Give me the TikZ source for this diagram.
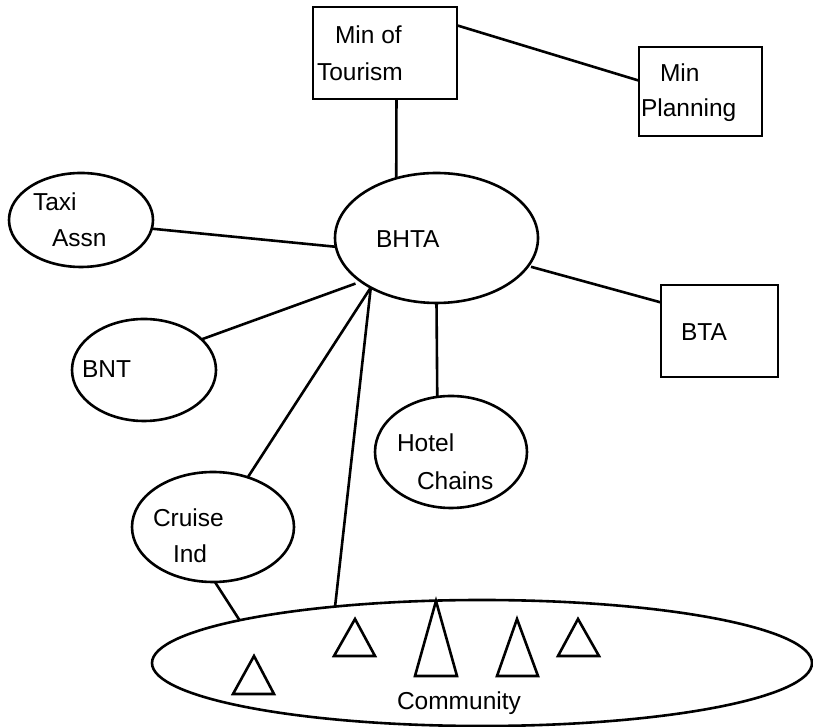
\documentclass[tikz,border=0pt]{standalone}
\usepackage{fontspec}
\setmainfont{Liberation Sans}
\usetikzlibrary{shapes.geometric}
\begin{document}
\begin{tikzpicture}[x=1pt,y=1pt,
  every node/.style={outer sep=0pt, inner sep=0pt},
  shp/.style={draw=black, line width=2.6pt},
  boxshape/.style={shp, rectangle},
  ovalshape/.style={shp, ellipse},
  lbl/.style={anchor=base west, font=\fontsize{24.5}{29}\selectfont},
  link/.style={draw=black, line width=2.6pt}]
\useasboundingbox (0,0) rectangle (813,727);

% shapes
\node[boxshape, minimum width=144pt, minimum height=92pt] (tourism) at (385,674) {};
\node[boxshape, minimum width=123pt, minimum height=89pt] (planning) at (700.5,635.5) {};
\node[boxshape, minimum width=117pt, minimum height=92pt] (bta) at (719.5,396) {};
\node[ovalshape, minimum width=203pt, minimum height=130pt] (bhta) at (436.5,489) {};
\node[ovalshape, minimum width=144pt, minimum height=94pt] (taxi) at (81,507) {};
\node[ovalshape, minimum width=144pt, minimum height=102pt] (bnt) at (144,357) {};
\node[ovalshape, minimum width=152pt, minimum height=112pt] (hotel) at (451,275) {};
\node[ovalshape, minimum width=162pt, minimum height=110pt] (cruise) at (213,200) {};
\node[ovalshape, minimum width=660pt, minimum height=126pt] (community) at (482,64) {};

% people in the community
\draw[shp, line join=miter] (233,33) -- (254,71) -- (274,33) -- cycle;
\draw[shp, line join=miter] (334,71) -- (355,108) -- (375,71) -- cycle;
\draw[shp, line join=miter] (415,51) -- (436,126) -- (457,51) -- cycle;
\draw[shp, line join=miter] (497,51) -- (517,108) -- (538,51) -- cycle;
\draw[shp, line join=miter] (558,71) -- (578,108) -- (599,71) -- cycle;

% labels
\node[lbl] (ttour1) at (335,683) {Min of};
\node[lbl] (ttour2) at (317,646) {Tourism};
\node[lbl] (tplan1) at (660,645) {Min};
\node[lbl] (tplan2) at (641,610) {Planning};
\node[lbl] (tbta) at (681,386) {BTA};
\node[lbl] (tbhta) at (376,479) {BHTA};
\node[lbl] (ttaxi1) at (33,516) {Taxi};
\node[lbl] (ttaxi2) at (52,480) {Assn};
\node[lbl] (tbnt) at (82,349) {BNT};
\node[lbl] (thotel1) at (397,275) {Hotel};
\node[lbl] (thotel2) at (417,237) {Chains};
\node[lbl] (tcruise1) at (153,200) {Cruise};
\node[lbl] (tcruise2) at (173,164) {Ind};
\node[lbl] (tcomm) at (397,17) {Community};

% connectors
\draw[link] (tourism.-76.5) -- (bhta.124);
\draw[link] (tourism.21.3) -- (planning.170.3);
\draw[link] (taxi.-7.9) -- (bhta.185.6);
\draw[link, shorten >=6pt] (bnt.28) -- (bhta.210.3);
\draw[link] (cruise.55) -- (bhta.217.4);
\draw[link] (community.159) -- (bhta.217.4);
\draw[link] (cruise.-88) -- (community.170.5);
\draw[link] (bhta.south) -- (hotel.104.3);
\draw[link, shorten <=3pt] (bhta.-17) -- (bta.154.4);
\end{tikzpicture}
\end{document}
